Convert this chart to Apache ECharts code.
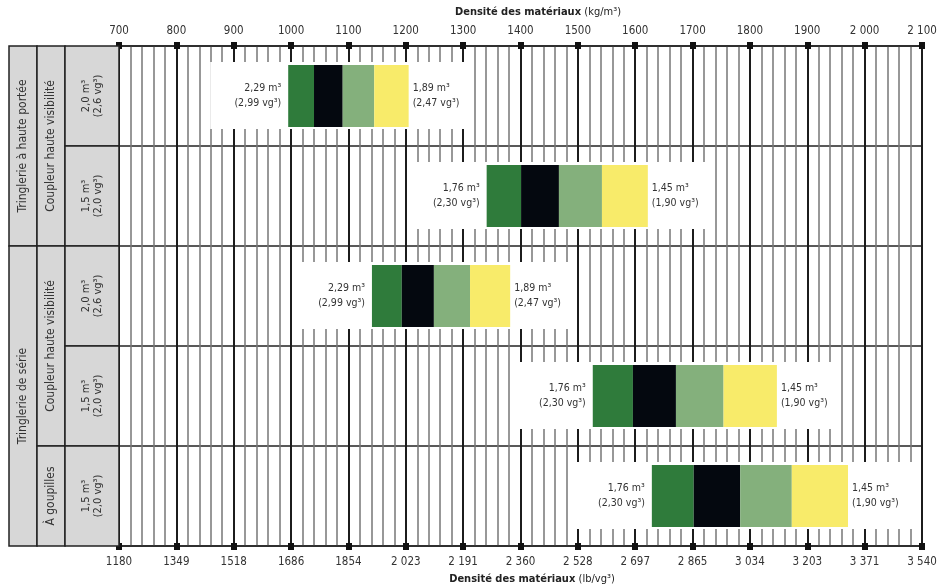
<!DOCTYPE html>
<html>
<head>
<meta charset="utf-8">
<script src="https://cdn.jsdelivr.net/npm/echarts@6/dist/echarts.min.js"></script>
<style>
html,body{margin:0;padding:0;background:#fff;}
#chart{width:941px;height:588px;}
</style>
</head>
<body>
<div id="chart"></div>
<script>
// ---- data ----
var rowKeys = ['r1', 'r2', 'r3', 'r4', 'r5'];
// segment boundaries (kg/m³)
var startDensity  = [995, 1341, 1141, 1526, 1629];   // dark green start
var blackStart    = [1040, 1401, 1193, 1596, 1702];
var lightStart    = [1090, 1467, 1249, 1671, 1783];
var yellowStart   = [1145, 1542, 1312, 1754, 1873];
var endDensity    = [1205, 1622, 1382, 1847, 1971];
var leftLabelM3   = ['2,29 m³', '1,76 m³', '2,29 m³', '1,76 m³', '1,76 m³'];
var leftLabelVg   = ['(2,99 vg³)', '(2,30 vg³)', '(2,99 vg³)', '(2,30 vg³)', '(2,30 vg³)'];
var rightLabelM3  = ['1,89 m³', '1,45 m³', '1,89 m³', '1,45 m³', '1,45 m³'];
var rightLabelVg  = ['(2,47 vg³)', '(1,90 vg³)', '(2,47 vg³)', '(1,90 vg³)', '(1,90 vg³)'];
var bucketLabels  = ['2,0 m³\n(2,6 vg³)', '1,5 m³\n(2,0 vg³)', '2,0 m³\n(2,6 vg³)', '1,5 m³\n(2,0 vg³)', '1,5 m³\n(2,0 vg³)'];
var couplerGroups = [{label: 'Coupleur haute visibilité', from: 0, to: 1}, {label: 'Coupleur haute visibilité', from: 2, to: 3}, {label: 'À goupilles', from: 4, to: 4}];
var linkageGroups = [{label: 'Tringlerie à haute portée', from: 0, to: 1}, {label: 'Tringlerie de série', from: 2, to: 4}];
var topTickLabels = ['700', '800', '900', '1000', '1100', '1200', '1300', '1400', '1500', '1600', '1700', '1800', '1900', '2 000', '2 100'];
var bottomTickLabels = ['1180', '1349', '1518', '1686', '1854', '2 023', '2 191', '2 360', '2 528', '2 697', '2 865', '3 034', '3 203', '3 371', '3 540'];
var axisMin = 700, axisMax = 2100, axisStep = 100;

// ---- layout / style ----
var FONT = "'Liberation Sans Narrow','DejaVu Sans Condensed','Roboto Condensed',sans-serif";
var GRID = {left: 119, right: 19, top: 46, bottom: 42};
var W = 941, H = 588;
var plotH = H - GRID.top - GRID.bottom;
var rowH = plotH / rowKeys.length;
var colX = [9, 37, 65, 119];
var segColors = ['#2f7b3b', '#04080f', '#84b07c', '#f8eb6a'];

var chart = echarts.init(document.getElementById('chart'), null, {renderer: 'canvas'});

var seriesData = rowKeys.map(function (k, i) {
  return [i, startDensity[i], blackStart[i], lightStart[i], yellowStart[i], endDensity[i]];
});

function renderItem(params, api) {
  var idx = api.value(0);
  var yC = api.coord([api.value(1), idx])[1];
  var band = api.size([0, 1])[1];
  var bh = band * 0.62;
  var xs = [];
  for (var j = 1; j <= 5; j++) xs.push(api.coord([api.value(j), idx])[0]);
  var children = [];
  children.push({type: 'rect', shape: {x: xs[0] - 78, y: yC - bh / 2 - 3, width: xs[4] - xs[0] + 78 + 64, height: bh + 5}, style: {fill: '#ffffff'}});
  for (var s = 0; s < 4; s++) {
    children.push({type: 'rect', shape: {x: xs[s], y: yC - bh / 2, width: xs[s + 1] - xs[s], height: bh}, style: {fill: segColors[s]}});
  }
  children.push({type: 'text', style: {text: leftLabelM3[idx] + '\n' + leftLabelVg[idx], x: xs[0] - 7, y: yC, align: 'right', textAlign: 'right', verticalAlign: 'middle', textVerticalAlign: 'middle', font: '10.5px ' + FONT, lineHeight: 15, fill: '#333'}});
  children.push({type: 'text', style: {text: rightLabelM3[idx] + '\n' + rightLabelVg[idx], x: xs[4] + 4, y: yC, align: 'left', textAlign: 'left', verticalAlign: 'middle', textVerticalAlign: 'middle', font: '10.5px ' + FONT, lineHeight: 15, fill: '#333'}});
  return {type: 'group', children: children};
}

// ---- left table (graphic) ----
var graphics = [];
function cell(x0, x1, r0, r1, text, fs) {
  var y0 = GRID.top + r0 * rowH, y1 = GRID.top + (r1 + 1) * rowH;
  graphics.push({type: 'rect', shape: {x: x0, y: y0, width: x1 - x0, height: y1 - y0}, style: {fill: '#d7d7d7', stroke: '#222', lineWidth: 1.5}, z: 10});
  graphics.push({type: 'text', x: (x0 + x1) / 2, y: (y0 + y1) / 2, rotation: Math.PI / 2,
    style: {text: text, x: 0, y: 0, align: 'center', textAlign: 'center', verticalAlign: 'middle', textVerticalAlign: 'middle', font: fs + 'px ' + FONT, lineHeight: 12, fill: '#333'}, z: 11});
}
linkageGroups.forEach(function (g) { cell(colX[0], colX[1], g.from, g.to, g.label, 12); });
couplerGroups.forEach(function (g) { cell(colX[1], colX[2], g.from, g.to, g.label, 12); });
bucketLabels.forEach(function (t, i) { cell(colX[2], colX[3], i, i, t, 11); });

var squareTick = {show: true, length: 1, lineStyle: {color: '#111', width: 6, cap: 'square'}};
var nameRich = {b: {fontFamily: FONT, fontWeight: 'bold', fontSize: 11, color: '#222'}, r: {fontFamily: FONT, fontSize: 11, color: '#222'}};

var option = {
  animation: false,
  backgroundColor: '#fff',
  grid: {left: GRID.left, right: GRID.right, top: GRID.top, bottom: GRID.bottom, containLabel: false, outerBoundsMode: 'none'},
  xAxis: [{
    type: 'value', position: 'top', min: axisMin, max: axisMax, interval: axisStep,
    name: '{b|Densité des matériaux} {r|(kg/m³)}', nameLocation: 'middle', nameGap: 28,
    nameTextStyle: {rich: nameRich, padding: [0, 0, 0, 35]},
    axisLine: {show: true, lineStyle: {color: '#222', width: 1.5}},
    axisTick: squareTick,
    axisLabel: {margin: 9, fontFamily: FONT, fontSize: 11.5, color: '#333', formatter: function (v) { return topTickLabels[Math.round((v - axisMin) / axisStep)]; }},
    splitLine: {show: true, lineStyle: {color: '#1c1c1c', width: 2}},
    minorTick: {show: false, splitNumber: 5},
    minorSplitLine: {show: true, lineStyle: {color: '#777', width: 1.5}}
  }, {
    type: 'value', position: 'bottom', min: axisMin, max: axisMax, interval: axisStep,
    name: '{b|Densité des matériaux} {r|(lb/vg³)}', nameLocation: 'middle', nameGap: 27,
    nameTextStyle: {rich: nameRich, padding: [0, 0, 0, 23]},
    axisLine: {show: true, lineStyle: {color: '#222', width: 1.5}},
    axisTick: squareTick,
    axisLabel: {margin: 10, fontFamily: FONT, fontSize: 11.5, color: '#333', formatter: function (v) { return bottomTickLabels[Math.round((v - axisMin) / axisStep)]; }},
    splitLine: {show: false}
  }],
  yAxis: {
    type: 'category', data: rowKeys, inverse: true,
    axisLabel: {show: false}, axisTick: {show: false}, axisLine: {show: false},
    splitLine: {show: true, lineStyle: {color: '#222', width: 1.5}}
  },
  graphic: graphics,
  series: [{
    type: 'custom', xAxisIndex: 0, yAxisIndex: 0,
    renderItem: renderItem,
    encode: {x: [1, 2, 3, 4, 5], y: 0},
    data: seriesData,
    z: 5
  }]
};
chart.setOption(option);
</script>
</body>
</html>
